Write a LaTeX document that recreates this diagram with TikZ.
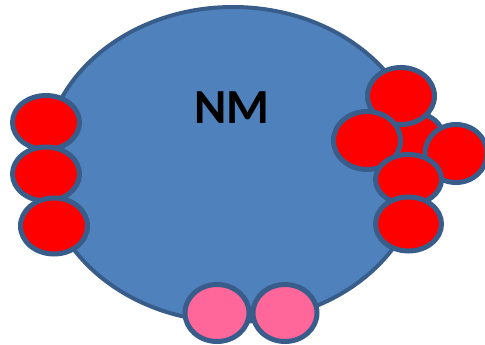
\documentclass[tikz,border=0pt]{standalone}
\usepackage{fontspec}
\newfontfamily\labelfont{Carlito}
\definecolor{nmblue}{HTML}{4F81BD}
\definecolor{nmedge}{HTML}{385D8A}
\definecolor{bead}{HTML}{FF0000}
\definecolor{pinkbead}{HTML}{FF6699}
\tikzset{
  membrane/.style={fill=nmblue, draw=nmedge, line width=4pt},
  redbead/.style={fill=bead, draw=nmedge, line width=5pt},
  pinkball/.style={fill=pinkbead, draw=nmedge, line width=5pt},
}
\begin{document}
\begin{tikzpicture}[x=1pt,y=-1pt]
\useasboundingbox (0,0) rectangle (485,345);
\begin{scope}
\clip (0,0) rectangle (485,345);
% nucleus body
\draw[membrane] (233,164.5) ellipse [x radius=189pt, y radius=157.5pt];
\node[font=\labelfont\bfseries\fontsize{49}{49}\selectfont] (nm) at (232,108) {NM};
% left column of beads
\draw[redbead] (46,122.5) ellipse [x radius=33.5pt, y radius=27pt];
\draw[redbead] (46,174) ellipse [x radius=33.5pt, y radius=27pt];
\draw[redbead] (54,226) ellipse [x radius=33.5pt, y radius=28pt];
% right cluster of beads
\draw[redbead] (411,140) ellipse [x radius=33.5pt, y radius=28pt];
\draw[redbead] (401,96) ellipse [x radius=33.5pt, y radius=28.5pt];
\draw[redbead] (456,153.5) ellipse [x radius=31pt, y radius=29pt];
\draw[redbead] (367,140.5) ellipse [x radius=33.5pt, y radius=29pt];
\draw[redbead] (408.5,179.5) ellipse [x radius=33pt, y radius=25pt];
\draw[redbead] (408.5,224) ellipse [x radius=33pt, y radius=27pt];
% bottom pair
\draw[pinkball] (217,313) ellipse [x radius=32pt, y radius=28.5pt];
\draw[pinkball] (285,313) ellipse [x radius=32pt, y radius=28.5pt];
\end{scope}
\end{tikzpicture}
\end{document}
